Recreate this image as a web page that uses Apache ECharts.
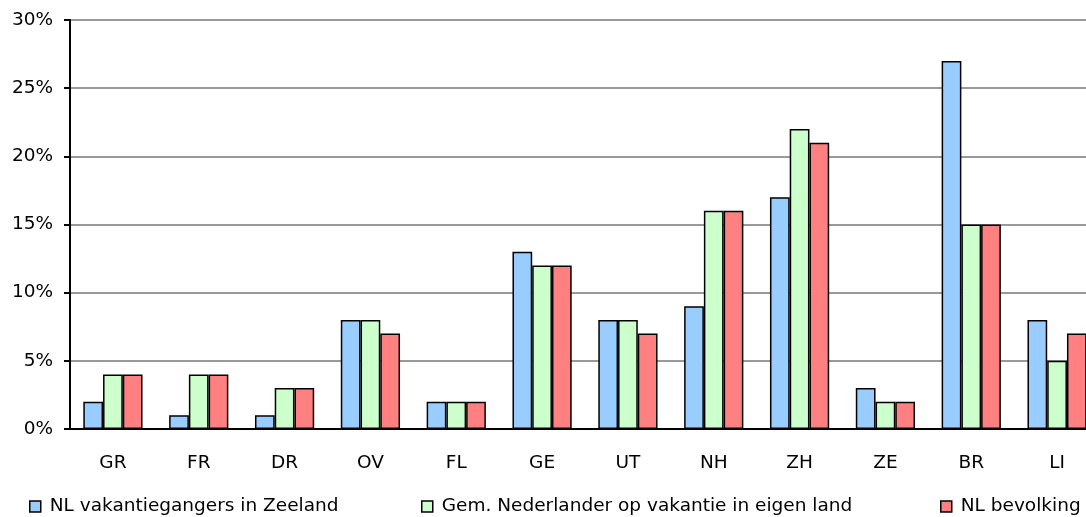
<!DOCTYPE html>
<html>
<head>
<meta charset="utf-8">
<script src="https://cdn.jsdelivr.net/npm/echarts@6/dist/echarts.min.js"></script>
<style>
  html, body { margin: 0; padding: 0; background: #fff; }
  #main { width: 1086px; height: 517px; }
</style>
</head>
<body>
<div id="main"></div>
<script>
// provincies
var categories = ['GR', 'FR', 'DR', 'OV', 'FL', 'GE', 'UT', 'NH', 'ZH', 'ZE', 'BR', 'LI'];
var seriesNames = ['NL vakantiegangers in Zeeland', 'Gem. Nederlander op vakantie in eigen land', 'NL bevolking'];
var zeeland = [2, 1, 1, 8, 2, 13, 8, 9, 17, 3, 27, 8];
var eigenLand = [4, 4, 3, 8, 2, 12, 8, 16, 22, 2, 15, 5];
var bevolking = [4, 4, 3, 7, 2, 12, 7, 16, 21, 2, 15, 7];
var colors = ['#99ccff', '#ccffcc', '#ff8080'];

var chart = echarts.init(document.getElementById('main'));

var font = 'DejaVu Sans';
var fsize = 18.5;

function legend(name, left) {
  return {
    data: [name],
    left: left,
    top: 492,
    itemWidth: 11,
    itemHeight: 11,
    itemGap: 0,
    icon: 'rect',
    textStyle: { fontFamily: font, fontSize: fsize, color: '#000', padding: [0, 0, 0, 4] },
    itemStyle: { borderColor: '#000', borderWidth: 1.5 }
  };
}

var option = {
  animation: false,
  legend: [
    legend(seriesNames[0], 24),
    legend(seriesNames[1], 416),
    legend(seriesNames[2], 935)
  ],
  grid: {
    left: 70,
    width: 1030,
    top: 20,
    bottom: 88,
    containLabel: false,
    outerBoundsMode: 'none'
  },
  xAxis: {
    type: 'category',
    data: categories,
    axisLine: { lineStyle: { color: '#000', width: 2 } },
    axisTick: { length: 6, lineStyle: { color: '#000', width: 2 } },
    axisLabel: { margin: 25, fontFamily: font, fontSize: fsize, color: '#000' }
  },
  yAxis: {
    type: 'value',
    min: 0,
    max: 30,
    interval: 5,
    axisLine: { show: true, lineStyle: { color: '#000', width: 2 } },
    axisTick: { show: true, length: 6, lineStyle: { color: '#000', width: 2 } },
    axisLabel: { margin: 17, formatter: '{value}%', fontFamily: font, fontSize: fsize, color: '#000' },
    splitLine: { lineStyle: { color: '#999', width: 2 } }
  },
  series: [zeeland, eigenLand, bevolking].map(function (d, i) {
    return {
      name: seriesNames[i],
      type: 'bar',
      data: d,
      barGap: '0%',
      barCategoryGap: '31%',
      itemStyle: { color: colors[i], borderColor: '#000', borderWidth: 1.5 }
    };
  })
};

chart.setOption(option);
</script>
</body>
</html>
